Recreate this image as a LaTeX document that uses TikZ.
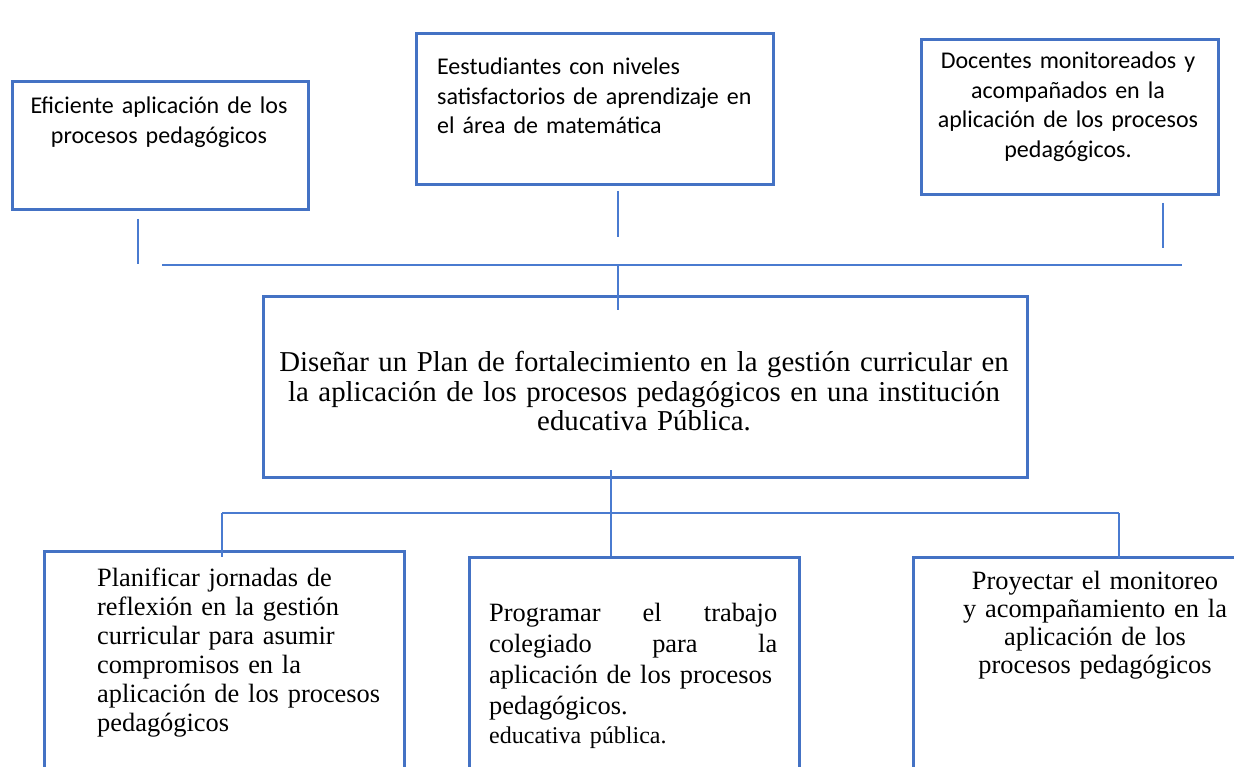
\documentclass[tikz,border=0pt]{standalone}
\usepackage{fontspec}
\setmainfont{Liberation Serif}
\newfontfamily\calibrifont{Carlito}
\usepackage{xcolor}
\usepackage{tikz}
\usetikzlibrary{positioning}
\definecolor{bg}{HTML}{FFFFFF}
\definecolor{edge}{HTML}{4472C4}
\definecolor{link}{HTML}{4A7BD0}
\definecolor{ink}{HTML}{000000}
\tikzset{
  box/.style={draw=edge, line width=2.6pt, rectangle, inner sep=0pt, anchor=north west},
  wire/.style={draw=link, line width=1.3pt},
  effect/.style={text=ink, font=\calibrifont\fontsize{24}{29.5}\selectfont, inner sep=0pt},
  goal/.style={text=ink, font=\fontsize{28.8}{29.5}\selectfont, inner sep=0pt, anchor=base, align=center},
  means/.style={text=ink, font=\fontsize{26.4}{29}\selectfont, inner sep=0pt},
}

\begin{document}
\begin{tikzpicture}[x=1pt, y=-1pt]
  \useasboundingbox (0,0) rectangle (1234,767);
  \fill[bg] (0,0) rectangle (1234,767);
  \clip (0,0) rectangle (1234,767);
  % efectos
  \node[box, minimum width=296pt, minimum height=128pt] (fin1) at (11,80) {};
  \node[box, minimum width=357pt, minimum height=151pt] (fin2) at (415,32) {};
  \node[box, minimum width=297pt, minimum height=155pt] (fin3) at (920,38) {};
  \node[effect, anchor=base, align=center, text width=290pt] (fin1txt) at (159,113.6)
    {Eficiente aplicación de los\\procesos pedagógicos};
  \node[effect, anchor=base west, align=left, text width=330pt] (fin2txt) at (437,74.6)
    {Eestudiantes con niveles\\satisfactorios de aprendizaje en\\el área de matemática};
  \node[effect, anchor=base, align=center, text width=290pt] (fin3txt) at (1068,68.6)
    {Docentes monitoreados y\\acompañados en la\\aplicación de los procesos\\pedagógicos.};
  % objetivo
  \node[box, minimum width=764pt, minimum height=181pt] (goal) at (262,295) {};
  \node[goal, text width=760pt] (goaltxt) at (644,371.5)
    {Diseñar un Plan de fortalecimiento en la gestión curricular en\\la aplicación de los procesos pedagógicos en una institución\\educativa Pública.};
  % medios
  \node[box, minimum width=360pt, minimum height=240pt] (med1) at (43,550) {};
  \node[box, minimum width=330pt, minimum height=240pt] (med2) at (468,556) {};
  \node[box, minimum width=366pt, minimum height=240pt] (med3) at (912,556) {};
  \node[means, anchor=base west, align=left, text width=300pt] (med1txt) at (97,586)
    {Planificar jornadas de\\reflexión en la gestión\\curricular para asumir\\compromisos en la\\aplicación de los procesos\\pedagógicos};
  \node[means, font=\fontsize{26.4}{31}\selectfont, anchor=base west, align=left, text width=288pt] (med2txt) at (489,621)
    {\makebox[288pt][s]{Programar\hfill el\hfill trabajo}\\
     \makebox[288pt][s]{colegiado\hfill para\hfill la}\\
     \makebox[288pt][s]{aplicación de los procesos}\\
     pedagógicos.\\[-2pt]
     {\fontsize{24}{29}\selectfont educativa pública.}};
  \node[means, font=\fontsize{26.4}{28}\selectfont, anchor=base, align=center, text width=300pt] (med3txt) at (1095,589)
    {Proyectar el monitoreo\\y acompañamiento en la\\aplicación de los\\procesos pedagógicos};
  % conectores
  \coordinate (up1a) at (138,219);  \coordinate (up1b) at (138,264);
  \coordinate (up2a) at (618,191);  \coordinate (up2b) at (618,237);
  \coordinate (up3a) at (1163,203); \coordinate (up3b) at (1163,248);
  \coordinate (busL) at (162,265);  \coordinate (busR) at (1182,265);
  \coordinate (busM) at (618,265);  \coordinate (goalin) at (618,310);
  \draw[wire] (up1a) -- (up1b);
  \draw[wire] (up2a) -- (up2b);
  \draw[wire] (up3a) -- (up3b);
  \draw[wire] (busL) -- (busR);
  \draw[wire] (busM) -- (goalin);
  \coordinate (trunkA) at (611,470); \coordinate (trunkB) at (611,556);
  \coordinate (lowL) at (222,513);   \coordinate (lowR) at (1119,513);
  \coordinate (dn1) at (222,557);    \coordinate (dn3) at (1119,558);
  \draw[wire] (trunkA) -- (trunkB);
  \draw[wire] (lowL) -- (lowR);
  \draw[wire] (lowL) -- (dn1);
  \draw[wire] (lowR) -- (dn3);
\end{tikzpicture}
\end{document}
